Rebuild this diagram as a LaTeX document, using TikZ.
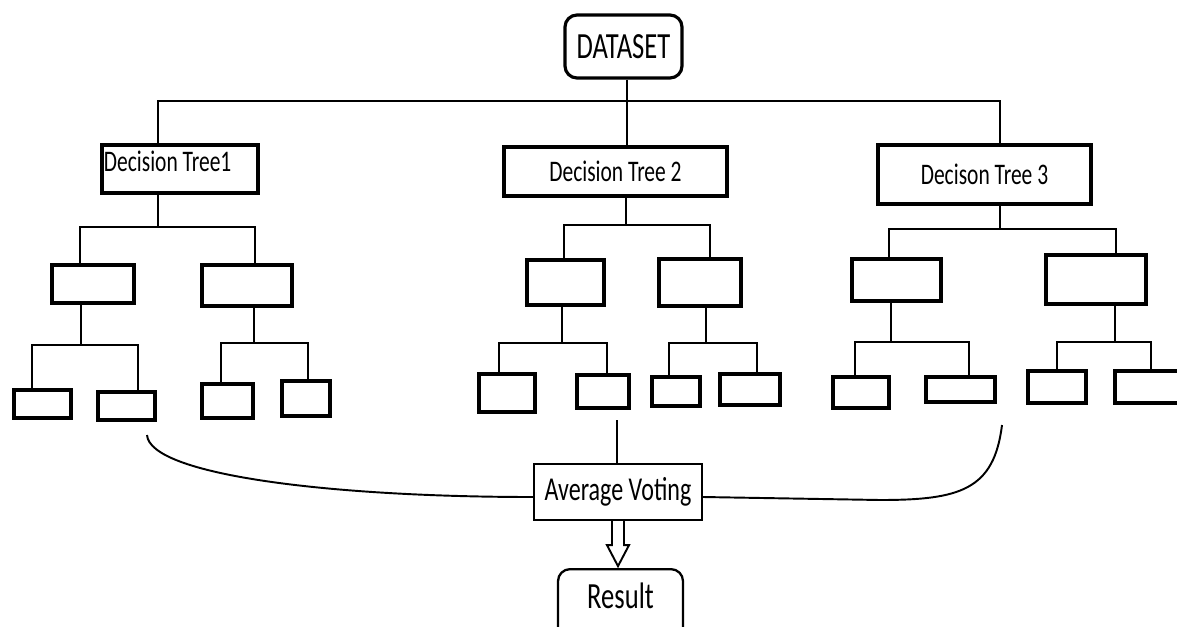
\documentclass[tikz,border=0pt]{standalone}
\usepackage{fontspec}
\setmainfont[FakeStretch=0.72]{Carlito}
\newdimen\pxu
\pxu=0.02cm

\tikzset{
  conn/.style={line width=1.1pt},
  treebox/.style={draw, line width=2.2pt, inner sep=0pt},
  size/.style 2 args={minimum width=#1\pxu, minimum height=#2\pxu},
  roundbox/.style={draw, rounded corners=12\pxu, inner sep=0pt}
}

\begin{document}
\begin{tikzpicture}[x=0.02cm, y=-0.02cm]
  \useasboundingbox (0,0) rectangle (1177,626);
  \clip (0,0) rectangle (1177,626);

  % root and the three trees
  \node[roundbox, line width=1.8pt, size={117}{63}, font=\fontsize{21}{24}\selectfont] (dataset) at (623.5,46.5) {DATASET};
  \node[treebox, size={156}{48}, label={[anchor=north west, inner sep=2pt, yshift=-4\pxu, font=\fontsize{17}{20}\selectfont]north west:Decision Tree1}] (dt1) at (180,169) {};
  \node[treebox, size={223}{49}, font=\fontsize{17}{20}\selectfont] (dt2) at (615.5,171.5) {Decision Tree 2};
  \node[treebox, size={213}{59}, font=\fontsize{17}{20}\selectfont] (dt3) at (984.5,174.5) {Decison Tree 3};

  % first level
  \node[treebox, size={82}{38}] (t1l) at (93,284) {};
  \node[treebox, size={90}{41}] (t1r) at (247,285.5) {};
  \node[treebox, size={77}{45}] (t2l) at (565.5,282.5) {};
  \node[treebox, size={82}{47}] (t2r) at (700,282.5) {};
  \node[treebox, size={89}{42}] (t3l) at (896.5,280) {};
  \node[treebox, size={100}{49}] (t3r) at (1096,279.5) {};

  % leaves
  \node[treebox, size={57}{28}] (t1ll) at (42.5,404) {};
  \node[treebox, size={57}{28}] (t1lr) at (126.5,406) {};
  \node[treebox, size={51}{34}] (t1rl) at (227.5,401) {};
  \node[treebox, size={48}{35}] (t1rr) at (306,398.5) {};
  \node[treebox, size={56}{38}] (t2ll) at (507,393) {};
  \node[treebox, size={52}{33}] (t2lr) at (603,391.5) {};
  \node[treebox, size={48}{29}] (t2rl) at (676,391.5) {};
  \node[treebox, size={60}{31}] (t2rr) at (750,389.5) {};
  \node[treebox, size={56}{31}] (t3ll) at (861,392.5) {};
  \node[treebox, size={69}{25}] (t3lr) at (960.5,389.5) {};
  \node[treebox, size={58}{32}] (t3rl) at (1057,387) {};
  \node[treebox, size={70}{32}] (t3rr) at (1150,387) {};

  \node[draw, line width=1.3pt, size={168}{56}, inner sep=0pt, font=\fontsize{19}{22}\selectfont] (avg) at (618,492) {Average Voting};
  \node[roundbox, line width=1.3pt, minimum width=125\pxu, inner ysep=11\pxu, text height=28\pxu, text depth=40\pxu,
    anchor=north, font=\fontsize{21}{24}\selectfont] (res) at (620.5,568) {Result};

  % dataset to trees
  \draw[conn] (dataset.south -| 627,0) -- (dt2.north -| 627,0);
  \draw[conn] (dt1.north -| 158,0) -- (158,101) -- (1000,101) -- (dt3.north -| 1000,0);

  % tree 1
  \draw[conn] (dt1.south -| 158,0) -- (158,227);
  \draw[conn] (t1l.north -| 80,0) -- (80,227) -- (255,227) -- (t1r.north -| 255,0);
  \draw[conn] (t1l.south -| 81,0) -- (81,345);
  \draw[conn] (t1ll.north -| 32,0) -- (32,345) -- (138,345) -- (t1lr.north -| 138,0);
  \draw[conn] (t1r.south -| 254,0) -- (254,343);
  \draw[conn] (t1rl.north -| 221,0) -- (221,343) -- (308,343) -- (t1rr.north -| 308,0);

  % tree 2
  \draw[conn] (dt2.south -| 626,0) -- (626,225);
  \draw[conn] (t2l.north -| 564,0) -- (564,225) -- (710,225) -- (t2r.north -| 710,0);
  \draw[conn] (t2l.south -| 562,0) -- (562,343);
  \draw[conn] (t2ll.north -| 499,0) -- (499,343) -- (607,343) -- (t2lr.north -| 607,0);
  \draw[conn] (t2r.south -| 706,0) -- (706,343);
  \draw[conn] (t2rl.north -| 669,0) -- (669,343) -- (757,343) -- (t2rr.north -| 757,0);

  % tree 3
  \draw[conn] (dt3.south -| 1000,0) -- (1000,229);
  \draw[conn] (t3l.north -| 889,0) -- (889,229) -- (1116,229) -- (t3r.north -| 1116,0);
  \draw[conn] (t3l.south -| 891,0) -- (891,342);
  \draw[conn] (t3ll.north -| 855,0) -- (855,342) -- (969,342) -- (t3lr.north -| 969,0);
  \draw[conn] (t3r.south -| 1115,0) -- (1115,342);
  \draw[conn] (t3rl.north -| 1057,0) -- (1057,342) -- (1151,342) -- (t3rr.north -| 1151,0);

  % voting
  \coordinate (vl) at (147,435);
  \coordinate (vm) at (617,420);
  \coordinate (vr) at (1002,425);
  \draw[conn] (vm) -- (vm |- avg.north);
  \draw[conn] (vl) .. controls (150,475) and (330,497) .. ([yshift=-5\pxu]avg.west);
  \draw[conn] (vr) .. controls (994,490) and (960,500) .. (880,500) -- ([yshift=-5\pxu]avg.east);

  % hollow arrow to the result
  \draw[conn, fill=white] (avg.south) ++(-6,0) -- ++(0,24) -- ++(-5,0) -- ++(11,21)
    -- ++(11,-21) -- ++(-5,0) -- ++(0,-24);
\end{tikzpicture}
\end{document}
